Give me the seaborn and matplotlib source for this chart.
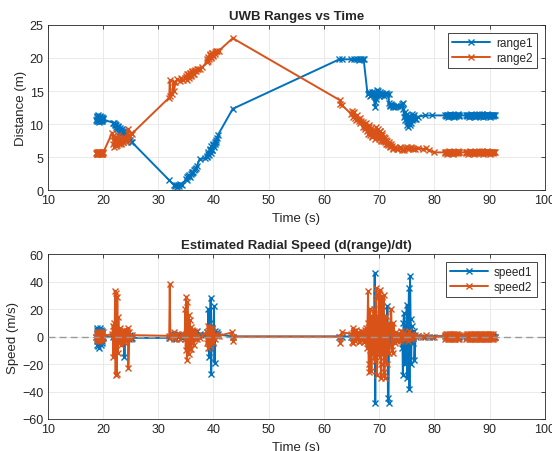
import numpy as np
import pandas as pd
import matplotlib
matplotlib.use("Agg")
import matplotlib.pyplot as plt
import seaborn as sns

# ---------------- data ----------------
t_range1 = [18.8, 18.85, 18.9, 18.95, 19.0, 19.05, 19.1, 19.15, 19.2, 19.25, 19.3, 19.35,
            19.4, 19.45, 19.5, 19.55, 19.6, 19.65, 19.7, 19.75, 19.8, 19.85, 19.9, 19.95, 20.0,
            21.8, 22.0, 22.1, 22.2, 22.3, 22.4, 22.5, 22.6, 22.7, 22.8, 22.9, 23.0, 23.1, 23.2,
            23.3, 23.4, 23.5, 23.6, 23.7, 23.8, 23.9, 24.0, 24.2, 24.4, 24.7, 24.9, 25.1, 25.3,
            32.0, 32.8, 33.0, 33.2, 33.4, 33.6, 33.8, 34.0, 34.3, 35.0, 35.15, 35.3, 35.45, 35.6,
            35.75, 35.9, 36.05, 36.2, 36.35, 36.5, 36.65, 36.8, 37.0, 37.5, 38.5, 38.8, 38.9,
            39.0, 39.1, 39.2, 39.3, 39.4, 39.5, 39.6, 39.7, 39.8, 39.9, 40.0, 40.1, 40.2, 40.3,
            40.4, 40.5, 40.6, 40.8, 43.5, 62.8, 63.2, 65.0, 65.5, 66.0, 66.3, 66.5, 66.8, 67.0,
            67.2, 67.9, 68.1, 68.2, 68.4, 68.5, 68.7, 68.8, 69.0, 69.1, 69.2, 69.3, 69.4, 69.5,
            69.6, 69.7, 69.8, 69.9, 70.0, 70.2, 70.3, 70.5, 70.6, 70.8, 71.0, 71.2, 71.4, 71.7,
            71.8, 71.9, 72.0, 72.2, 72.3, 72.5, 72.6, 72.8, 73.0, 73.5, 74.0, 74.2, 74.3, 74.4,
            74.5, 74.6, 74.7, 74.8, 74.9, 75.0, 75.1, 75.2, 75.3, 75.4, 75.5, 75.6, 75.7, 75.8,
            75.9, 76.0, 76.1, 76.2, 76.3, 76.5, 76.6, 77.0, 78.3, 79.5,
            82.0, 82.1, 82.2, 82.3, 82.4, 82.5, 82.6, 82.7, 82.8, 82.9, 83.0, 83.1, 83.2,
            83.3, 83.4, 83.5, 83.6, 83.7, 83.8, 83.9, 84.0, 84.1, 84.2, 84.3, 84.4, 84.5,
            85.8, 85.9, 86.0, 86.1, 86.2, 86.3, 86.4, 86.5, 86.6, 86.7, 86.8, 86.9, 87.0,
            87.1, 87.2, 87.3, 87.4, 87.5, 87.6, 87.7, 87.8, 87.9, 88.0, 88.1, 88.2, 88.3,
            88.4, 88.5, 88.6, 88.7, 88.8, 88.9, 89.0, 89.1, 89.2, 89.3, 89.4, 89.5, 89.6,
            89.7, 89.8, 89.9, 90.0, 90.1, 90.2, 90.3, 90.4, 90.5, 90.6, 90.7, 90.8, 90.9]
range1 = [10.6, 11.0, 10.5, 11.2, 10.7, 10.4, 11.3, 10.6, 10.9, 10.3, 11.1, 10.6,
          11.2, 10.5, 10.8, 11.0, 10.4, 10.9, 10.6, 11.1, 10.5, 10.8, 10.6, 10.9, 10.7,
          10.2, 10.1, 9.9, 10.0, 9.6, 9.8, 9.3, 9.4, 9.7, 9.6, 9.2, 9.1, 9.4, 8.9,
          9.0, 9.2, 8.7, 8.8, 9.0, 8.7, 8.5, 8.6, 8.5, 8.6, 8.0, 7.6, 7.3, 7.2,
          1.5, 0.8, 0.6, 0.7, 0.5, 0.7, 0.6, 0.9, 0.8, 1.6, 1.5, 1.9, 2.1, 2.2,
          2.0, 2.4, 2.6, 2.8, 2.7, 3.0, 3.2, 3.4, 3.6, 4.7, 4.8, 5.2, 5.0,
          5.8, 5.4, 5.3, 6.0, 6.2, 5.6, 6.6, 6.1, 6.0, 6.8, 6.9, 6.5, 7.2, 7.0,
          7.6, 7.3, 7.9, 8.3, 12.3, 19.8, 19.8, 19.8, 19.8, 19.9, 19.7, 19.8, 19.9, 19.9,
          19.8, 14.6, 14.9, 14.7, 14.3, 14.4, 14.8, 14.5, 14.9, 14.2, 13.4, 12.6, 14.3, 13.8,
          14.6, 15.2, 15.0, 14.3, 14.5, 14.8, 14.4, 14.7, 14.6, 14.3, 14.5, 14.7, 14.5, 14.5,
          13.2, 12.9, 12.7, 13.1, 12.9, 12.6, 12.8, 12.6, 12.7, 12.8, 12.8, 13.0, 13.2, 12.2,
          11.0, 11.8, 10.6, 11.4, 11.4, 9.8, 10.5, 10.9, 9.5, 10.2, 11.2, 9.9, 10.2, 11.0,
          11.5, 10.6, 10.8, 11.2, 11.3, 10.7, 10.8, 11.1, 11.3, 11.3,
          11.3, 11.2, 11.4, 11.3, 11.1, 11.4, 11.2, 11.3, 11.5, 11.2, 11.3, 11.4, 11.2,
          11.3, 11.4, 11.1, 11.3, 11.2, 11.4, 11.3, 11.2, 11.4, 11.3, 11.5, 11.2, 11.3,
          11.3, 11.2, 11.4, 11.3, 11.1, 11.4, 11.2, 11.3, 11.5, 11.2, 11.3, 11.4, 11.2,
          11.3, 11.4, 11.1, 11.3, 11.2, 11.4, 11.3, 11.2, 11.4, 11.3, 11.5, 11.2, 11.3,
          11.4, 11.2, 11.3, 11.5, 11.1, 11.3, 11.4, 11.2, 11.3, 11.4, 11.2, 11.3, 11.5,
          11.2, 11.3, 11.4, 11.1, 11.3, 11.4, 11.2, 11.3, 11.4, 11.2, 11.3, 11.4, 11.3]

t_range2 = [18.8, 18.85, 18.9, 18.95, 19.0, 19.05, 19.1, 19.15, 19.2, 19.25, 19.3, 19.35,
            19.4, 19.45, 19.5, 19.55, 19.6, 19.65, 19.7, 19.75, 19.8, 19.85, 19.9, 19.95, 20.0,
            21.7, 21.8, 21.9, 22.0, 22.1, 22.2, 22.3, 22.4, 22.5, 22.6, 22.7, 22.8, 22.9, 23.0,
            23.1, 23.2, 23.3, 23.4, 23.5, 23.6, 23.7, 23.8, 23.9, 24.0, 24.1, 24.2, 24.3, 24.4,
            24.5, 24.6, 24.8, 25.0, 25.2,
            32.0, 32.1, 32.2, 32.5, 32.8, 32.9, 33.1, 33.5, 33.9, 34.2, 34.5, 34.8, 35.0, 35.1,
            35.2, 35.3, 35.4, 35.5, 35.6, 35.7, 35.8, 35.9, 36.0, 36.1, 36.2, 36.3, 36.4, 36.5,
            36.6, 36.8, 37.0, 37.2, 37.6, 38.0, 38.8, 38.9, 39.0, 39.1, 39.2, 39.3, 39.4, 39.5,
            39.6, 39.7, 39.8, 39.9, 40.0, 40.2, 40.3, 40.5, 40.6, 41.0, 43.5,
            62.9, 63.0, 63.2, 65.0, 65.1, 65.2, 65.3, 65.5, 65.6, 65.8, 66.0, 66.1, 66.3, 66.5,
            66.6, 66.8, 67.0, 67.1, 67.2, 67.4, 67.5, 67.7, 67.8, 67.9, 68.0, 68.1, 68.2, 68.3,
            68.4, 68.5, 68.6, 68.7, 68.8, 68.9, 69.0, 69.1, 69.2, 69.3, 69.4, 69.5, 69.6, 69.7,
            69.8, 69.9, 70.0, 70.1, 70.2, 70.3, 70.4, 70.5, 70.6, 70.7, 70.8, 70.9, 71.0, 71.1,
            71.2, 71.3, 71.4, 71.5, 71.6, 71.7, 71.8, 71.9, 72.0, 72.2, 72.3, 72.5, 72.6, 72.8,
            73.0, 73.3, 73.5, 73.7, 74.0, 74.2, 74.5, 74.7, 75.0, 75.2, 75.5, 75.7, 76.0, 76.2,
            76.5, 77.0, 78.0, 78.5, 79.0, 80.0,
            81.9, 82.0, 82.1, 82.2, 82.3, 82.4, 82.5, 82.6, 82.7, 82.8, 82.9, 83.0, 83.1, 83.2,
            83.3, 83.4, 83.5, 83.6, 83.7, 83.8, 83.9, 84.0, 84.1, 84.2, 84.3, 84.4, 84.5,
            85.7, 85.8, 85.9, 86.0, 86.1, 86.2, 86.3, 86.4, 86.5, 86.6, 86.7, 86.8, 86.9, 87.0,
            87.1, 87.2, 87.3, 87.4, 87.5, 87.6, 87.7, 87.8, 87.9, 88.0, 88.1, 88.2, 88.3,
            88.4, 88.5, 88.6, 88.7, 88.8, 88.9, 89.0, 89.1, 89.2, 89.3, 89.4, 89.5, 89.6,
            89.7, 89.8, 89.9, 90.0, 90.1, 90.2, 90.3, 90.4, 90.5, 90.6, 90.7, 90.8, 90.9]
range2 = [5.6, 5.5, 5.7, 5.6, 5.4, 5.7, 5.6, 5.5, 5.8, 5.6, 5.5, 5.7,
          5.6, 5.4, 5.7, 5.6, 5.5, 5.8, 5.6, 5.5, 5.7, 5.6, 5.5, 5.7, 5.6,
          8.7, 8.2, 7.0, 6.5, 8.0, 7.6, 7.2, 6.6, 6.8, 7.9, 8.4, 7.3, 7.0, 7.8,
          7.5, 7.1, 6.9, 7.6, 7.7, 7.2, 7.3, 7.9, 8.0, 7.5, 7.4, 7.7, 7.8, 8.1,
          9.3, 7.6, 8.3, 8.6, 8.5,
          14.0, 16.6, 14.2, 14.6, 16.4, 15.0, 16.3, 16.8, 16.5, 16.9, 16.6, 16.9, 17.3, 16.9,
          16.7, 17.5, 17.6, 17.0, 17.2, 17.7, 17.8, 17.3, 17.4, 17.9, 18.0, 17.5, 17.6, 18.1,
          18.2, 18.0, 18.3, 18.4, 18.3, 18.6, 19.4, 19.9, 20.2, 19.6, 19.8, 20.4, 20.6, 20.1,
          20.0, 20.7, 20.8, 20.3, 20.4, 20.9, 20.6, 21.1, 21.0, 21.1, 23.0,
          13.6, 13.0, 12.9, 11.5, 12.0, 11.0, 11.6, 11.8, 10.9, 10.6, 11.3, 10.8, 10.5, 10.9,
          10.2, 10.4, 9.6, 10.3, 10.0, 9.5, 9.3, 10.1, 9.0, 9.5, 8.5, 9.9, 9.6, 8.6,
          8.3, 9.1, 9.4, 8.2, 8.0, 9.0, 9.1, 8.3, 7.8, 8.6, 8.8, 9.5, 8.4, 8.0,
          9.2, 8.1, 7.7, 8.9, 8.9, 7.6, 7.5, 8.4, 8.6, 7.4, 7.4, 8.0, 7.9, 7.2,
          7.0, 7.6, 7.4, 6.9, 6.8, 7.3, 7.0, 6.7, 6.5, 6.9, 6.7, 6.4, 6.2, 6.5,
          6.4, 6.2, 6.2, 6.5, 6.4, 6.1, 6.1, 6.4, 6.5, 6.2, 6.3, 6.5, 6.4, 6.2,
          6.2, 6.3, 6.2, 6.3, 6.0, 5.7,
          5.7, 5.6, 5.8, 5.7, 5.5, 5.8, 5.6, 5.7, 5.9, 5.6, 5.7, 5.8, 5.6, 5.7,
          5.8, 5.5, 5.7, 5.6, 5.8, 5.7, 5.6, 5.8, 5.7, 5.9, 5.6, 5.7, 5.7,
          5.7, 5.6, 5.8, 5.7, 5.5, 5.8, 5.6, 5.7, 5.9, 5.6, 5.7, 5.8, 5.6, 5.7,
          5.8, 5.5, 5.7, 5.6, 5.8, 5.7, 5.6, 5.8, 5.7, 5.9, 5.6, 5.7, 5.7,
          5.8, 5.6, 5.7, 5.9, 5.5, 5.7, 5.8, 5.6, 5.7, 5.8, 5.6, 5.7, 5.9,
          5.6, 5.7, 5.8, 5.5, 5.7, 5.8, 5.6, 5.7, 5.8, 5.6, 5.7, 5.8, 5.7]

t_speed1 = [18.8, 18.85, 18.9, 18.95, 19.0, 19.05, 19.1, 19.15, 19.2, 19.25, 19.3, 19.35,
            19.4, 19.45, 19.5, 19.55, 19.6, 19.65, 19.7, 19.75, 19.8, 19.85, 19.9, 19.95, 20.0,
            21.8, 22.0, 22.2, 22.4, 22.6, 22.8, 23.0, 23.2, 23.4, 23.6, 23.8, 23.9, 24.0, 24.2,
            24.4, 24.7, 24.9, 25.1, 25.3,
            32.0, 32.8, 33.2, 33.6, 34.0, 34.3, 35.0, 35.3, 35.6, 35.9, 36.2, 36.5, 36.8, 37.0,
            37.5, 38.5, 38.8, 39.0, 39.1, 39.2, 39.3, 39.4, 39.5, 39.6, 39.7, 39.8, 39.9, 40.0,
            40.1, 40.2, 40.3, 40.4, 40.6, 40.8, 43.5, 62.8, 63.2, 65.0, 65.5, 66.0, 66.5, 67.0,
            67.2, 67.9, 68.2, 68.5, 68.8, 69.0, 69.1, 69.2, 69.3, 69.4, 69.5, 69.6, 69.8, 70.0,
            70.3, 70.6, 71.0, 71.4, 71.5, 71.6, 71.7, 71.8, 72.0, 72.3, 72.6, 73.0, 73.5, 74.0,
            74.1, 74.2, 74.3, 74.4, 74.5, 74.6, 74.7, 74.8, 74.9, 75.0, 75.1, 75.2, 75.3, 75.4,
            75.5, 75.6, 75.7, 75.8, 75.9, 76.1, 76.3, 76.4, 76.6, 77.0, 78.3, 79.5,
            82.0, 82.1, 82.2, 82.3, 82.4, 82.5, 82.6, 82.7, 82.8, 82.9, 83.0, 83.1, 83.2,
            83.3, 83.4, 83.5, 83.6, 83.7, 83.8, 83.9, 84.0, 84.1, 84.2, 84.3, 84.4, 84.5,
            85.8, 85.9, 86.0, 86.1, 86.2, 86.3, 86.4, 86.5, 86.6, 86.7, 86.8, 86.9, 87.0,
            87.1, 87.2, 87.3, 87.4, 87.5, 87.6, 87.7, 87.8, 87.9, 88.0, 88.1, 88.2, 88.3,
            88.4, 88.5, 88.6, 88.7, 88.8, 88.9, 89.0, 89.1, 89.2, 89.3, 89.4, 89.5, 89.6,
            89.7, 89.8, 89.9, 90.0, 90.1, 90.2, 90.3, 90.4, 90.5, 90.6, 90.7, 90.8, 90.9]
speed1 = [0.0, 5.0, -3.0, 6.0, -6.0, 4.0, -7.0, 3.0, -5.0, 5.0, -8.0, 2.0,
          4.0, -4.0, 6.0, -2.0, 3.0, -6.0, 5.0, -3.0, 2.0, -5.0, 4.0, -1.0, 0.0,
          0.0, 1.0, -2.0, 3.0, -3.0, 2.0, -2.0, 1.0, -3.0, 2.0, -1.0, -15.0, 1.0, -1.0,
          2.0, -2.0, 1.0, -1.0, -1.0,
          -1.0, 2.0, -2.0, 1.0, 1.0, -1.0, 2.0, 1.0, -1.0, 2.0, 1.0, 2.0, 1.0, 4.0,
          2.0, 1.0, 3.0, -3.0, 20.0, -15.0, 10.0, -8.0, 28.0, -27.0, 6.0, 5.0, -5.0, 3.0,
          22.0, -19.0, 4.0, 2.0, 3.0, 1.5, 0.0, 0.0, 0.0, 0.0, 0.0, 0.5, -0.5, 0.0,
          0.0, -4.0, 1.0, -5.0, 3.0, 5.0, -8.0, 46.0, -48.0, 30.0, -12.0, 5.0, -8.0, -10.0,
          5.0, -6.0, 4.0, 2.0, 22.0, -45.0, -48.0, 3.0, -4.0, 2.0, -2.0, 1.0, 0.0, 1.0,
          -8.0, 3.0, -28.0, 10.0, 17.0, -10.0, -20.0, 8.0, -15.0, 23.0, -30.0, -12.0, 12.0, 35.0,
          -38.0, 44.0, 13.0, -20.0, 8.0, -5.0, 4.0, -17.0, 0.0, 0.5, 0.0, 0.0,
          0.5, -0.5, 0.6, -0.4, 0.5, -0.6, 0.4, -0.5, 0.6, -0.4, 0.5, -0.6, 0.4,
          0.5, -0.5, 0.6, -0.4, 0.5, -0.6, 0.4, -0.5, 0.6, -0.4, 0.5, -0.6, 0.4,
          0.5, -0.5, 0.6, -0.4, 0.5, -0.6, 0.4, -0.5, 0.6, -0.4, 0.5, -0.6, 0.4,
          0.5, -0.5, 0.6, -0.4, 0.5, -0.6, 0.4, -0.5, 0.6, -0.4, 0.5, -0.6, 0.4,
          0.5, -0.5, 0.6, -0.4, 0.5, -0.6, 0.4, -0.5, 0.6, -0.4, 0.5, -0.6, 0.4,
          0.5, -0.5, 0.6, -0.4, 0.5, -0.6, 0.4, -0.5, 0.6, -0.4, 0.5, -0.4, 0.0]

t_speed2 = [18.8, 18.85, 18.9, 18.95, 19.0, 19.05, 19.1, 19.15, 19.2, 19.25, 19.3, 19.35,
            19.4, 19.45, 19.5, 19.55, 19.6, 19.65, 19.7, 19.75, 19.8, 19.85, 19.9, 19.95, 20.0,
            21.7, 21.8, 21.9, 22.0, 22.1, 22.2, 22.3, 22.4, 22.5, 22.6, 22.7, 22.8, 22.9, 23.0,
            23.1, 23.2, 23.3, 23.4, 23.5, 23.6, 23.7, 23.8, 23.9, 24.0, 24.1, 24.2, 24.3, 24.4,
            24.5, 24.6, 24.8, 25.0, 25.2,
            32.0, 32.1, 32.2, 32.5, 32.8, 32.9, 33.1, 33.5, 33.9, 34.2, 34.5, 34.8, 34.9, 35.0,
            35.1, 35.2, 35.3, 35.4, 35.5, 35.6, 35.7, 35.8, 35.9, 36.0, 36.1, 36.2, 36.3, 36.4,
            36.5, 36.6, 36.8, 37.0, 37.2, 37.6, 38.0, 38.8, 38.9, 39.0, 39.1, 39.2, 39.3, 39.4,
            39.5, 39.6, 39.7, 39.8, 39.9, 40.0, 40.2, 40.3, 40.5, 40.6, 41.0, 43.4, 43.5, 43.6,
            62.9, 63.0, 63.2, 65.0, 65.1, 65.2, 65.3, 65.5, 65.6, 65.8, 66.0, 66.1, 66.3, 66.5,
            66.6, 66.8, 67.0, 67.1, 67.2, 67.4, 67.5, 67.7, 67.8, 67.9, 68.0, 68.1, 68.2, 68.3,
            68.4, 68.5, 68.6, 68.7, 68.8, 68.9, 69.0, 69.1, 69.2, 69.3, 69.4, 69.5, 69.6, 69.7,
            69.8, 69.9, 70.0, 70.1, 70.2, 70.3, 70.4, 70.5, 70.6, 70.7, 70.8, 70.9, 71.0, 71.1,
            71.2, 71.3, 71.4, 71.5, 71.6, 71.7, 71.8, 71.9, 72.0, 72.2, 72.3, 72.5, 72.6, 72.8,
            73.0, 73.3, 73.5, 73.7, 74.0, 74.2, 74.5, 74.7, 75.0, 75.2, 75.5, 75.7, 76.0, 76.2,
            76.5, 77.0, 78.0, 78.5, 79.0, 80.0,
            81.9, 82.0, 82.1, 82.2, 82.3, 82.4, 82.5, 82.6, 82.7, 82.8, 82.9, 83.0, 83.1, 83.2,
            83.3, 83.4, 83.5, 83.6, 83.7, 83.8, 83.9, 84.0, 84.1, 84.2, 84.3, 84.4, 84.5,
            85.7, 85.8, 85.9, 86.0, 86.1, 86.2, 86.3, 86.4, 86.5, 86.6, 86.7, 86.8, 86.9, 87.0,
            87.1, 87.2, 87.3, 87.4, 87.5, 87.6, 87.7, 87.8, 87.9, 88.0, 88.1, 88.2, 88.3,
            88.4, 88.5, 88.6, 88.7, 88.8, 88.9, 89.0, 89.1, 89.2, 89.3, 89.4, 89.5, 89.6,
            89.7, 89.8, 89.9, 90.0, 90.1, 90.2, 90.3, 90.4, 90.5, 90.6, 90.7, 90.8, 90.9]
speed2 = [0.0, 2.0, -2.0, 3.0, -1.0, 2.0, -3.0, 1.0, -2.0, 2.0, -1.0, 3.0,
          -2.0, 2.0, -3.0, 1.0, -2.0, 3.0, -1.0, 2.0, -2.0, 1.0, -1.0, 3.0, 0.0,
          2.0, 8.0, -15.0, 10.0, -8.0, 33.0, -28.0, 32.0, -27.0, 29.0, -12.0, 14.0, -5.0, 6.0,
          3.0, -6.0, -4.0, 4.0, 2.0, -3.0, 3.0, -4.0, 5.0, -2.0, 3.0, -3.0, 4.0, -2.0,
          6.0, -23.0, 3.0, -2.0, 1.0,
          0.5, 38.0, -1.0, 2.0, -2.0, 3.0, -1.0, 2.0, -2.0, 1.0, 2.0, -2.0, 20.0, -10.0,
          29.0, -17.0, 25.0, -8.0, 16.0, -13.0, 12.0, -9.0, 7.0, -9.0, 5.0, -4.0, 3.0, -6.0,
          4.0, -2.0, 3.0, -2.0, 1.0, -1.0, 1.0, 3.0, -5.0, 8.0, -8.0, 6.0, -7.0, 4.0,
          -5.0, 5.0, -3.0, 6.0, -4.0, 3.0, -2.0, 2.0, 1.0, 0.5, 0.5, 3.0, -3.0, 0.0,
          0.0, -5.0, 3.0, 2.0, -4.0, 6.0, -5.0, 4.0, -3.0, 5.0, -2.0, 3.0, -4.0, 2.0,
          -3.0, 4.0, -2.0, 3.0, -4.0, 5.0, -3.0, 6.0, -8.0, 10.0, 33.0, -20.0, -26.0, 20.0,
          -10.0, 8.0, -25.0, 15.0, -12.0, 10.0, 20.0, -15.0, -18.0, 12.0, 28.0, 35.0, -28.0, -5.0,
          15.0, -10.0, 32.0, -15.0, 34.0, -20.0, -30.0, 26.0, 29.0, -12.0, 30.0, -26.0, -30.0, 12.0,
          15.0, -10.0, -20.0, 8.0, 10.0, -6.0, -12.0, 5.0, 8.0, 20.0, -10.0, -12.0, 10.0, -5.0,
          3.0, -3.0, 2.0, -3.0, 4.0, -2.0, 3.0, -2.0, 2.0, -3.0, 4.0, -2.0, 2.0, -1.0,
          1.0, 0.5, 0.0, 1.0, 0.0, -0.5,
          1.0, -1.5, 2.0, -1.0, 1.5, -2.0, 1.0, -1.5, 2.0, -1.0, 1.5, -2.0, 1.0, -1.5,
          2.0, -1.0, 1.5, -2.0, 1.0, -1.5, 2.0, -1.0, 1.5, -2.0, 1.0, -1.5, 1.0,
          1.0, -1.5, 2.0, -1.0, 1.5, -2.0, 1.0, -1.5, 2.0, -1.0, 1.5, -2.0, 1.0, -1.5,
          2.0, -1.0, 1.5, -2.0, 1.0, -1.5, 2.0, -1.0, 1.5, -2.0, 1.0, -1.5, 2.0,
          -1.0, 1.5, -2.0, 1.0, -1.5, 2.0, -1.0, 1.5, -2.0, 1.0, -1.5, 2.0, -1.0,
          1.5, -2.0, 1.0, -1.5, 2.0, -1.0, 1.5, -2.0, 1.0, -1.5, 2.0, -1.0, 0.0]

# ---------------- style ----------------
sns.set_style("white")
plt.rcParams['font.family'] = ['Liberation Sans', 'DejaVu Sans']
BLUE = "#0072BD"
ORANGE = "#D95319"

fig = plt.figure(figsize=(5.52, 4.52), dpi=100)
ax1 = fig.add_axes([0.0864, 0.5774, 0.9006, 0.3651])
ax2 = fig.add_axes([0.0864, 0.0708, 0.9006, 0.3650])

line_kw = dict(marker='x', markersize=4, markeredgewidth=1.0, linewidth=1.4,
               estimator=None, sort=False)

df_r1 = pd.DataFrame({'t': t_range1, 'v': range1})
df_r2 = pd.DataFrame({'t': t_range2, 'v': range2})
df_s1 = pd.DataFrame({'t': t_speed1, 'v': speed1})
df_s2 = pd.DataFrame({'t': t_speed2, 'v': speed2})

sns.lineplot(data=df_r1, x='t', y='v', ax=ax1, color=BLUE, label='range1',
             markeredgecolor=BLUE, **line_kw)
sns.lineplot(data=df_r2, x='t', y='v', ax=ax1, color=ORANGE, label='range2',
             markeredgecolor=ORANGE, **line_kw)

sns.lineplot(data=df_s1, x='t', y='v', ax=ax2, color=BLUE, label='speed1',
             markeredgecolor=BLUE, **line_kw)
sns.lineplot(data=df_s2, x='t', y='v', ax=ax2, color=ORANGE, label='speed2',
             markeredgecolor=ORANGE, **line_kw)
ax2.axhline(0, color='#9a9a9a', linestyle=(0, (5, 3)), linewidth=1.0, zorder=5)

ax1.set_xlim(10, 100)
ax1.set_ylim(0, 25)
ax1.set_xticks(np.arange(10, 101, 10))
ax1.set_yticks(np.arange(0, 26, 5))
ax2.set_xlim(10, 100)
ax2.set_ylim(-60, 60)
ax2.set_xticks(np.arange(10, 101, 10))
ax2.set_yticks(np.arange(-60, 61, 20))

for ax, title, ylab in [(ax1, 'UWB Ranges vs Time', 'Distance (m)'),
                        (ax2, 'Estimated Radial Speed (d(range)/dt)', 'Speed (m/s)')]:
    ax.set_title(title, fontsize=9.5, fontweight='bold', pad=4)
    ax.set_xlabel('Time (s)', fontsize=9.5, labelpad=4)
    ax.set_ylabel(ylab, fontsize=9.5, labelpad=2)
    ax.grid(True, color='#e6e6e6', linewidth=0.6)
    ax.set_axisbelow(True)
    ax.tick_params(direction='in', length=3, width=0.6, top=True, right=True,
                   labelsize=9, colors='#262626', pad=3)
    for s in ax.spines.values():
        s.set_visible(True)
        s.set_color('#262626')
        s.set_linewidth(0.6)
    leg = ax.legend(loc='upper right', fontsize=8.5, frameon=True, fancybox=False,
                    handlelength=3.2, borderpad=0.35, labelspacing=0.2,
                    handletextpad=0.5, borderaxespad=0.7)
    leg.get_frame().set_edgecolor('#262626')
    leg.get_frame().set_linewidth(0.6)
    leg.get_frame().set_alpha(1.0)
    leg.set_zorder(10)

fig.savefig('out.png', dpi=100)
